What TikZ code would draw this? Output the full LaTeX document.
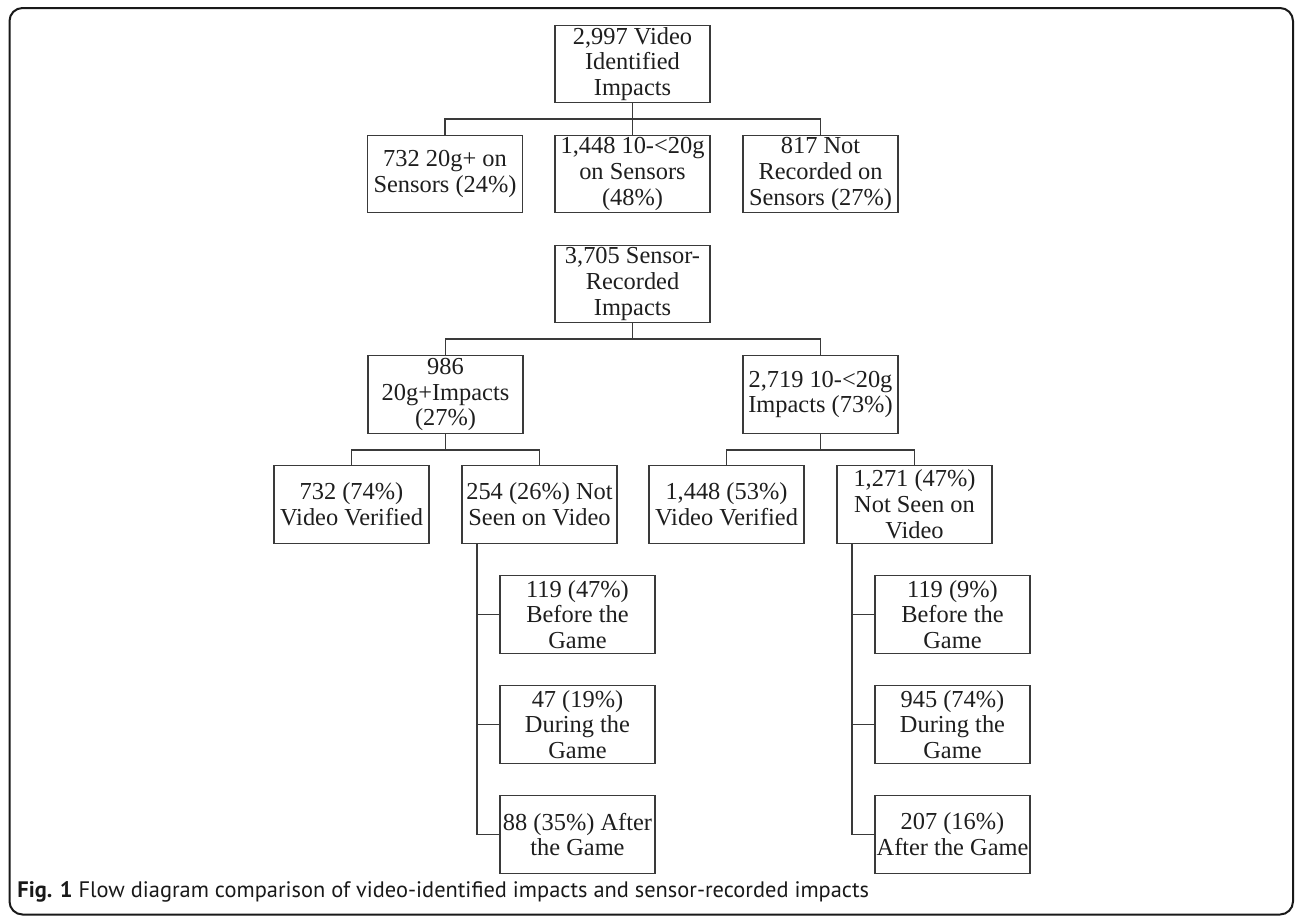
\documentclass[tikz,border=0pt]{standalone}
\usepackage{fontspec}
\setmainfont{Liberation Serif}
\newfontfamily\capfont{PT Sans}
\definecolor{boxgray}{HTML}{3A3A3A}
\definecolor{txt}{HTML}{1E1E1E}
\tikzset{
  box/.style={draw=boxgray, line width=0.65pt, minimum width=77.5pt, minimum height=38.75pt,
    inner sep=0pt, align=center, text=txt, font=\fontsize{12.2}{12.9}\selectfont},
  conn/.style={draw=boxgray, line width=0.7pt},
  frame/.style={draw=black!90, line width=1pt, rounded corners=6.5pt}
}
\begin{document}
\begin{tikzpicture}[x=0.5pt, y=-0.5pt]
\useasboundingbox (0,0) rectangle (1295,917);
\draw[frame] (9.5,8) rectangle (1293,914.5);

% Video identified tree
\node[box] (top) at (632.5,64) {2,997 Video\\Identified\\Impacts};
\node[box] (c1) at (445,174) {732 20g+ on\\Sensors (24\%)};
\node[box] (c2) at (632.5,174) {1,448 10-<20g\\on Sensors\\(48\%)};
\node[box] (c3) at (820.5,174) {817 Not\\Recorded on\\Sensors (27\%)};
\coordinate (bus1) at (632.5,119);
\draw[conn] (top.south) -- (bus1);
\draw[conn] (c1.north) -- (c1.north |- bus1) -- (c3.north |- bus1) -- (c3.north);
\draw[conn] (bus1) -- (c2.north);

% Sensor recorded tree
\node[box] (s) at (632.5,284) {3,705 Sensor-\\Recorded\\Impacts};
\node[box] (a) at (445.5,394.5) {986\\20g+Impacts\\(27\%)};
\node[box] (b) at (820.5,394.5) {2,719 10-<20g\\Impacts (73\%)};
\coordinate (bus2) at (632.5,339);
\draw[conn] (s.south) -- (bus2);
\draw[conn] (a.north) -- (a.north |- bus2) -- (b.north |- bus2) -- (b.north);

\node[box] (a1) at (351.5,504.5) {732 (74\%)\\Video Verified};
\node[box] (a2) at (539.5,504.5) {254 (26\%) Not\\Seen on Video};
\node[box] (b1) at (726.5,504.5) {1,448 (53\%)\\Video Verified};
\node[box] (b2) at (914.5,504.5) {1,271 (47\%)\\Not Seen on\\Video};
\coordinate (busa) at (445.5,450);
\coordinate (busb) at (820.5,450);
\draw[conn] (a.south) -- (busa);
\draw[conn] (a1.north) -- (a1.north |- busa) -- (a2.north |- busa) -- (a2.north);
\draw[conn] (b.south) -- (busb);
\draw[conn] (b1.north) -- (b1.north |- busb) -- (b2.north |- busb) -- (b2.north);

% sub boxes left
\node[box] (as1) at (577.5,614.5) {119 (47\%)\\Before the\\Game};
\node[box] (as2) at (577.5,724.5) {47 (19\%)\\During the\\Game};
\node[box] (as3) at (577.5,834.5) {88 (35\%) After\\the Game};
\coordinate (av) at (477,543);
\draw[conn] (av) -- (av |- as3.west) -- (as3.west);
\draw[conn] (av |- as1.west) -- (as1.west);
\draw[conn] (av |- as2.west) -- (as2.west);

% sub boxes right
\node[box] (bs1) at (952.5,614.5) {119 (9\%)\\Before the\\Game};
\node[box] (bs2) at (952.5,724.5) {945 (74\%)\\During the\\Game};
\node[box] (bs3) at (952.5,834.5) {207 (16\%)\\After the Game};
\coordinate (bv) at (852,543);
\draw[conn] (bv) -- (bv |- bs3.west) -- (bs3.west);
\draw[conn] (bv |- bs1.west) -- (bs1.west);
\draw[conn] (bv |- bs2.west) -- (bs2.west);

% caption
\node[anchor=base west, inner sep=0pt, text=black!90, font=\capfont\fontsize{11.2}{13}\selectfont] (cap) at (17,897)
  {\textbf{Fig. 1} Flow diagram comparison of video-identified impacts and sensor-recorded impacts};
\end{tikzpicture}
\end{document}
